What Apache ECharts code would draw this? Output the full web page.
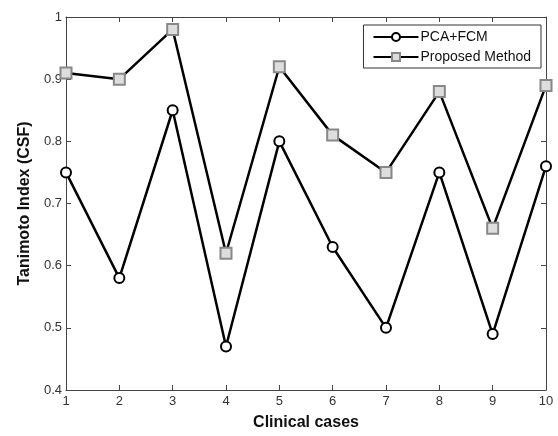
<!DOCTYPE html>
<html>
<head>
<meta charset="utf-8">
<script src="https://cdn.jsdelivr.net/npm/echarts@6/dist/echarts.min.js"></script>
<style>
  html, body { margin: 0; padding: 0; background: #fff; }
  #chart { width: 558px; height: 436px; }
</style>
</head>
<body>
<div id="chart"></div>
<script>
// values
const cases = ['1', '2', '3', '4', '5', '6', '7', '8', '9', '10'];
const pcaFcm = [0.75, 0.58, 0.85, 0.47, 0.80, 0.63, 0.50, 0.75, 0.49, 0.76];
const proposed = [0.91, 0.90, 0.98, 0.62, 0.92, 0.81, 0.75, 0.88, 0.66, 0.89];

const chart = echarts.init(document.getElementById('chart'));

const axisColor = '#444';
const font = 'Liberation Sans, Arial, sans-serif';

const option = {
    backgroundColor: '#fff',
    animation: false,
    grid: { left: 66, right: 12, top: 17, bottom: 41 },
    legend: {
        right: 17,
        top: 25,
        orient: 'vertical',
        backgroundColor: '#fff',
        borderColor: '#333',
        borderWidth: 1,
        padding: [5, 10, 4, 9],
        itemGap: 6,
        itemWidth: 45,
        itemHeight: 10,
        textStyle: { fontFamily: font, fontSize: 14, color: '#111', padding: [0, 0, 0, -3] },
        data: ['PCA+FCM', 'Proposed Method']
    },
    xAxis: [{
        type: 'value',
        min: 1, max: 10, interval: 1,
        name: 'Clinical cases',
        nameLocation: 'middle',
        nameGap: 25,
        nameTextStyle: { fontFamily: font, fontSize: 16, fontWeight: 'bold', color: '#111' },
        axisLine: { show: true, lineStyle: { color: axisColor, width: 1 } },
        axisTick: { show: true, inside: true, length: 5, lineStyle: { color: axisColor } },
        axisLabel: { margin: 5, fontFamily: font, fontSize: 13, color: '#333',
            formatter: v => cases[v - 1] },
        splitLine: { show: false }
    }, {
        type: 'value',
        position: 'top',
        min: 1, max: 10, interval: 1,
        axisLine: { show: true, lineStyle: { color: axisColor, width: 1 } },
        axisTick: { show: true, inside: true, length: 5, lineStyle: { color: axisColor } },
        axisLabel: { show: false },
        splitLine: { show: false }
    }],
    yAxis: [{
        type: 'value',
        min: 0.4, max: 1, interval: 0.1,
        name: 'Tanimoto Index (CSF)',
        nameLocation: 'middle',
        nameGap: 33,
        nameTextStyle: { fontFamily: font, fontSize: 16, fontWeight: 'bold', color: '#111' },
        axisLine: { show: true, lineStyle: { color: axisColor, width: 1 } },
        axisTick: { show: true, inside: true, length: 5, lineStyle: { color: axisColor } },
        axisLabel: { margin: 4, fontFamily: font, fontSize: 13, color: '#333',
            formatter: v => (Math.round(v * 10) / 10).toString() },
        splitLine: { show: false }
    }, {
        type: 'value',
        position: 'right',
        min: 0.4, max: 1, interval: 0.1,
        axisLine: { show: true, lineStyle: { color: axisColor, width: 1 } },
        axisTick: { show: true, inside: true, length: 5, lineStyle: { color: axisColor } },
        axisLabel: { show: false },
        splitLine: { show: false }
    }],
    series: [{
        name: 'PCA+FCM',
        type: 'line',
        data: pcaFcm.map((v, i) => [i + 1, v]),
        symbol: 'circle',
        symbolSize: 10,
        showAllSymbol: true,
        lineStyle: { color: '#000', width: 2.5 },
        itemStyle: { color: '#fff', borderColor: '#000', borderWidth: 2 }
    }, {
        name: 'Proposed Method',
        type: 'line',
        data: proposed.map((v, i) => [i + 1, v]),
        symbol: 'rect',
        symbolSize: 11,
        showAllSymbol: true,
        lineStyle: { color: '#000', width: 2.5 },
        itemStyle: { color: '#ddd', borderColor: '#888', borderWidth: 2 }
    }]
};

chart.setOption(option);
</script>
</body>
</html>
